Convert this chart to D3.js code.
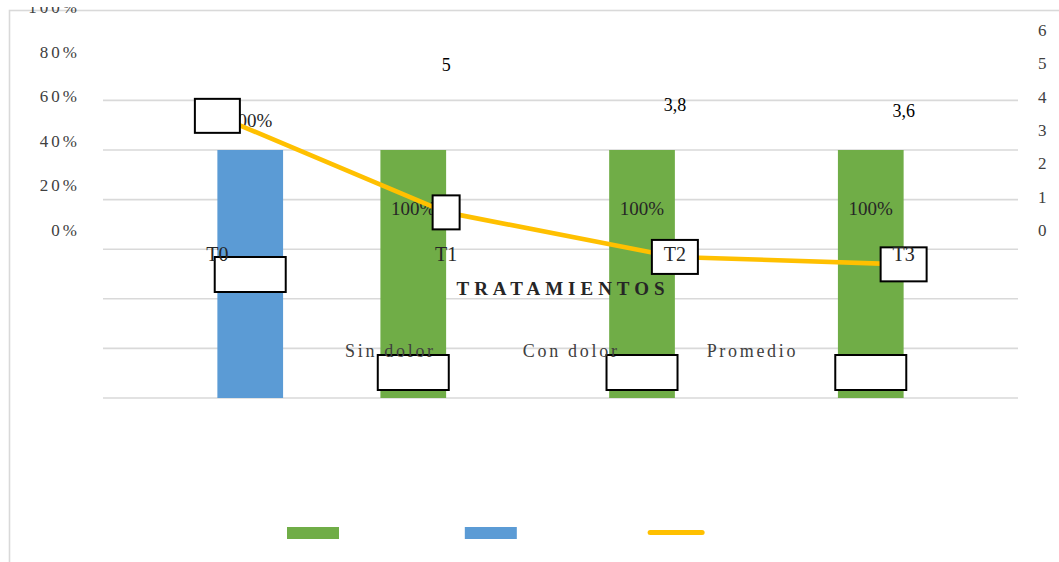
<!DOCTYPE html>
<html>
<head>
<meta charset="utf-8">
<script src="https://cdn.jsdelivr.net/npm/d3@7"></script>
<style>
  html, body { margin: 0; padding: 0; background: #fff; }
  svg { display: block; font-family: "Liberation Serif", "Times New Roman", serif; }
</style>
</head>
<body>
<svg id="chart" width="1059" height="562"></svg>
<script>
// Tratamientos T0–T3: porcentaje de pacientes con / sin dolor y promedio
const categories = ["T0", "T1", "T2", "T3"];
const sinDolor = [0, 100, 100, 100];
const conDolor = [100, 0, 0, 0];
const promedio = [7.6, 5, 3.8, 3.6];
const seriesNames = ["Sin dolor", "Con dolor", "Promedio"];
const leftTicks = [0, 20, 40, 60, 80, 100];
const rightTicks = [0, 1, 2, 3, 4, 5, 6];
const gridTicks = [0, 20, 40, 60, 80, 100, 120];

const GREEN = "#70AD47", BLUE = "#5B9BD5", GOLD = "#FFC000";
const GRID = "#d9d9d9", TXT = "#404040", DARK = "#262626";

const svg = d3.select("#chart");
const plot = { left: 103, right: 1018, top: 101, bottom: 398 };

// frame
svg.append("rect")
  .attr("x", 9.5).attr("y", 10.5).attr("width", 1070).attr("height", 570)
  .attr("fill", "none").attr("stroke", GRID).attr("stroke-width", 1.6);

// scales
const x0 = d3.scaleBand().domain(categories)
  .range([plot.left, plot.right]).paddingInner(0.4255).paddingOuter(0.21275);
const x1 = d3.scaleBand().domain(["Sin dolor", "Con dolor"]).range([0, x0.bandwidth()]);
const yBar = d3.scaleLinear().domain([0, 100]).range([plot.bottom, 150]);
const yLine = d3.scaleLinear().domain([0, 8]).range([plot.bottom, plot.top]);
const yLeftLab = d3.scaleLinear().domain([0, 100]).range([230, 7.2]);
const yRightLab = d3.scaleLinear().domain([0, 6]).range([230, 30]);
const cx = c => x0(c) + x0.bandwidth() / 2;

// gridlines
svg.append("g").selectAll("line").data(gridTicks).join("line")
  .attr("x1", plot.left).attr("x2", plot.right)
  .attr("y1", d => yBar(d)).attr("y2", d => yBar(d))
  .attr("stroke", GRID).attr("stroke-width", 1.6);

// left axis labels (the top one runs past the frame edge)
svg.append("clipPath").attr("id", "leftClip")
  .append("rect").attr("x", 0).attr("y", 7).attr("width", 100).attr("height", 300);
svg.append("g").attr("clip-path", "url(#leftClip)")
  .selectAll("text").data(leftTicks).join("text")
  .attr("x", 80).attr("y", d => yLeftLab(d)).attr("dy", "0.35em")
  .attr("text-anchor", "end").attr("font-size", 17).attr("letter-spacing", 3)
  .attr("fill", TXT).text(d => d + "%");

// right axis labels
svg.append("g").selectAll("text").data(rightTicks).join("text")
  .attr("x", 1038).attr("y", d => yRightLab(d)).attr("dy", "0.35em")
  .attr("font-size", 17).attr("fill", TXT).text(d => d);

// bars
const barRows = [];
categories.forEach((c, i) => {
  barRows.push({ cat: c, key: "Sin dolor", v: sinDolor[i], color: GREEN });
  barRows.push({ cat: c, key: "Con dolor", v: conDolor[i], color: BLUE });
});
const shown = barRows.filter(d => d.v > 0);
const bx = d => x0(d.cat) + x1(d.key);
svg.append("g").selectAll("rect").data(shown).join("rect")
  .attr("x", bx).attr("width", x1.bandwidth())
  .attr("y", d => yBar(d.v)).attr("height", d => yBar(0) - yBar(d.v))
  .attr("fill", d => d.color);

// bar value labels and their label boxes
const labelY = { "Sin dolor": 208, "Con dolor": 120 };
const boxY = { "Sin dolor": 355, "Con dolor": 257 };
svg.append("g").selectAll("text").data(shown).join("text")
  .attr("x", d => bx(d) + x1.bandwidth() / 2).attr("y", d => labelY[d.key]).attr("dy", "0.35em")
  .attr("text-anchor", "middle").attr("font-size", 19).attr("fill", DARK)
  .text(d => d.v + "%");

// Promedio line
const pts = categories.map((c, i) => ({ cat: c, v: promedio[i] }));
svg.append("path").datum(pts)
  .attr("d", d3.line().x(d => cx(d.cat)).y(d => yLine(d.v)))
  .attr("fill", "none").attr("stroke", GOLD).attr("stroke-width", 4.6)
  .attr("stroke-linejoin", "round");

// line markers
const markerW = [47, 29, 48, 48];
svg.append("g").selectAll("rect").data(pts).join("rect")
  .attr("x", (d, i) => cx(d.cat) - markerW[i] / 2 + 1)
  .attr("y", d => yLine(d.v) - 17)
  .attr("width", (d, i) => markerW[i] - 2).attr("height", 34)
  .attr("fill", "#fff").attr("stroke", "#000").attr("stroke-width", 2);

// Promedio value labels
svg.append("g").selectAll("text").data(pts.filter(d => d.v <= 6)).join("text")
  .attr("x", d => cx(d.cat)).attr("y", d => yRightLab(d.v) + 1).attr("dy", "0.35em")
  .attr("text-anchor", "middle").attr("font-size", 18).attr("fill", "#000")
  .text(d => String(d.v).replace(".", ","));

// boxes under bars
svg.append("g").selectAll("rect").data(shown).join("rect")
  .attr("x", d => bx(d) + x1.bandwidth() / 2 - 35.5)
  .attr("y", d => boxY[d.key])
  .attr("width", 71).attr("height", 35)
  .attr("fill", "#fff").attr("stroke", "#000").attr("stroke-width", 2);

// category labels
svg.append("g").selectAll("text").data(categories).join("text")
  .attr("x", d => cx(d)).attr("y", 254).attr("dy", "0.35em")
  .attr("text-anchor", "middle").attr("font-size", 20).attr("fill", DARK)
  .text(d => d);

// axis title
svg.append("text")
  .attr("x", (plot.left + plot.right) / 2 + 2.5).attr("y", 288).attr("dy", "0.35em")
  .attr("text-anchor", "middle").attr("font-size", 19).attr("font-weight", "bold")
  .attr("letter-spacing", 5).attr("fill", DARK).text("TRATAMIENTOS");

// legend
const legColors = [GREEN, BLUE, GOLD];
let lx = 287;
seriesNames.forEach((name, i) => {
  if (i < 2) {
    svg.append("rect").attr("x", lx).attr("y", 527).attr("width", 52).attr("height", 12)
      .attr("fill", legColors[i]);
  } else {
    svg.append("line").attr("x1", lx + 1.5).attr("x2", lx + 53.5)
      .attr("y1", 532.5).attr("y2", 532.5)
      .attr("stroke", legColors[i]).attr("stroke-width", 5).attr("stroke-linecap", "round");
  }
  const t = svg.append("text").attr("x", lx + 58).attr("y", 351).attr("dy", "0.35em")
    .attr("font-size", 18).attr("letter-spacing", 2.7).attr("fill", TXT).text(name);
  lx = lx + 58 + t.node().getComputedTextLength() + 29;
});
</script>
</body>
</html>
